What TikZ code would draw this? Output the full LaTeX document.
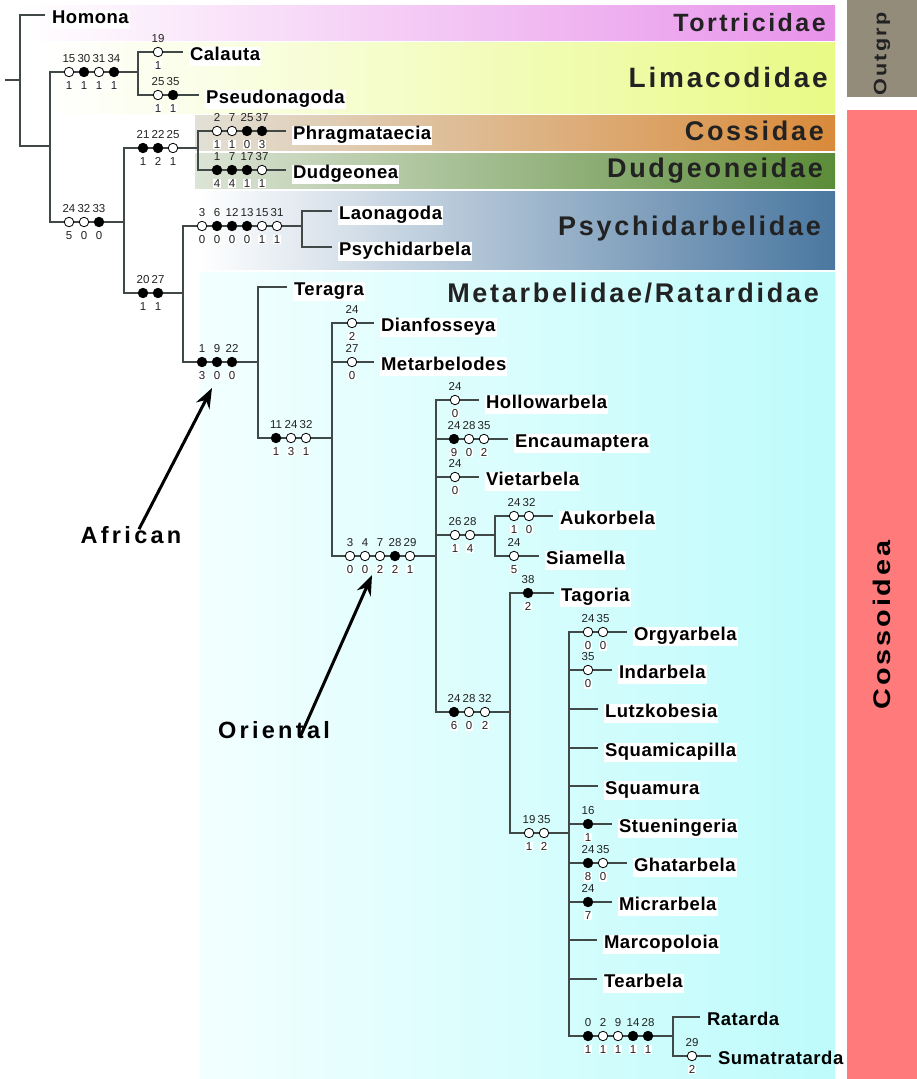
\documentclass[tikz,border=0pt]{standalone}
\usepackage{fontspec}
\setmainfont{Liberation Sans}
\newfontfamily\spaced[LetterSpace=10]{Liberation Sans}
\newfontfamily\taxfont[LetterSpace=3]{Liberation Sans}
\newfontfamily\arrfont[LetterSpace=14]{Liberation Sans}
\usepackage{xcolor}
\usepackage{tikz}
\usetikzlibrary{arrows.meta}

\definecolor{branch}{HTML}{404848}
\definecolor{famtext}{HTML}{222222}
\definecolor{tortM}{HTML}{F2C6DE}
\definecolor{tortR}{HTML}{E892EA}
\definecolor{limM}{HTML}{F3F9C9}
\definecolor{limR}{HTML}{E9FA85}
\definecolor{cosL}{HTML}{E2E0D6}
\definecolor{cosM}{HTML}{CDBB8C}
\definecolor{cosR}{HTML}{D98A3A}
\definecolor{dudL}{HTML}{DCE4D6}
\definecolor{dudM}{HTML}{A4BF8F}
\definecolor{dudR}{HTML}{5B8C38}
\definecolor{psyM}{HTML}{A9BCD0}
\definecolor{psyR}{HTML}{4A77A0}
\definecolor{metL}{HTML}{F3FFFF}
\definecolor{metR}{HTML}{BEFBFB}
\definecolor{outgrp}{HTML}{938C7B}
\definecolor{cossoid}{HTML}{FF7B7B}

\begin{document}
\begin{tikzpicture}[x=1pt, y=-1pt,
  br/.style={draw=branch, line width=1.2pt},
  opn/.style={circle, draw=black, line width=0.8pt, fill=white, inner sep=0pt, minimum size=9.5pt},
  cls/.style={opn, fill=black},
  num/.style={font=\fontsize{11.5}{12}\selectfont, text=famtext, inner sep=0.5pt},
  numb/.style={num, fill=white},
  c/.style 2 args={label={[num]above:#1}, label={[numb]below:#2}},
  label distance=4pt,
  tax/.style={anchor=west, fill=white, inner sep=1pt, outer xsep=6pt, text height=13pt, text depth=4pt,
    font=\taxfont\bfseries\fontsize{18.5}{20}\selectfont},
  fam/.style={anchor=east, inner sep=0pt, text=famtext, font=\spaced\bfseries\fontsize{#1}{#1}\selectfont},
  arr/.style={line width=3pt, -{Stealth[length=20pt, width=15pt]}}]
  \useasboundingbox (0,0) rectangle (917,1079);
  % family bands
  \shade[left color=white, middle color=tortM, right color=tortR] (20,5) rectangle (835,40);
  \shade[left color=white, middle color=limM, right color=limR] (45,42) rectangle (835,113);
  \shade[left color=cosL, middle color=cosM, right color=cosR] (195,115) rectangle (835,150);
  \shade[left color=dudL, middle color=dudM, right color=dudR] (195,153) rectangle (835,188);
  \shade[left color=white, middle color=psyM, right color=psyR] (200,191) rectangle (835,269);
  \shade[left color=metL, right color=metR] (200,272) rectangle (835,1079);
  \fill[outgrp] (847,0) rectangle (917,97);
  \fill[cossoid] (847,110) rectangle (917,1079);
  \node[fam=25] (tortricidae) at (826,23) {Tortricidae};
  \node[fam=28] (limacodidae) at (828,77) {Limacodidae};
  \node[fam=27] (cossidae) at (824,131) {Cossidae};
  \node[fam=27] (dudgeoneidae) at (823,171) {Dudgeoneidae};
  \node[fam=27] (psychidarbelidae) at (821,229) {Psychidarbelidae};
  \node[fam=27] (metarbelidae) at (819,293) {Metarbelidae/Ratardidae};
  \node[rotate=90, text=famtext, font=\spaced\bfseries\fontsize{18}{18}\selectfont] (outg) at (882,54) {\scalebox{1.2}[1]{Outgrp}};
  \node[rotate=90, text=black, font=\spaced\bfseries\fontsize{24}{24}\selectfont] (cossoidea) at (882,625) {\scalebox{1.2}[1]{Cossoidea}};

  % internal nodes of the tree
  \coordinate (root) at (5,80);
  \coordinate (r) at (20,80);
  \coordinate (a) at (50,146);
  \coordinate (lim) at (138,72);
  \coordinate (b) at (124,222);
  \coordinate (cd) at (198,148);
  \coordinate (c) at (183,293);
  \coordinate (psy) at (302,226);
  \coordinate (m) at (258,362);
  \coordinate (m1) at (332,438);
  \coordinate (m2) at (436,556);
  \coordinate (m3) at (495,535);
  \coordinate (m4) at (510,712);
  \coordinate (m5) at (569,833);
  \coordinate (m6) at (673,1036);

  % taxa (set 4px below their branch)
  \node[tax] (homona) at (45,19) {Homona};
  \node[tax] (calauta) at (183,56) {Calauta};
  \node[tax] (pseudonagoda) at (199,99) {Pseudonagoda};
  \node[tax] (phragmataecia) at (286,135) {Phragmataecia};
  \node[tax] (dudgeonea) at (286,174) {Dudgeonea};
  \node[tax] (laonagoda) at (332,215) {Laonagoda};
  \node[tax] (psychidarbela) at (332,251) {Psychidarbela\ };
  \node[tax] (teragra) at (287,291) {Teragra};
  \node[tax] (dianfosseya) at (374,327) {Dianfosseya};
  \node[tax] (metarbelodes) at (374,366) {Metarbelodes};
  \node[tax] (hollowarbela) at (479,404) {Hollowarbela};
  \node[tax] (encaumaptera) at (508,443) {Encaumaptera};
  \node[tax] (vietarbela) at (479,481) {Vietarbela\ };
  \node[tax] (aukorbela) at (553,520) {Aukorbela};
  \node[tax] (siamella) at (539,560) {Siamella};
  \node[tax] (tagoria) at (554,597) {Tagoria};
  \node[tax] (orgyarbela) at (627,636) {Orgyarbela\ };
  \node[tax] (indarbela) at (612,674) {Indarbela\ };
  \node[tax] (lutzkobesia) at (598,713) {Lutzkobesia};
  \node[tax] (squamicapilla) at (598,752) {Squamicapilla};
  \node[tax] (squamura) at (598,790) {Squamura};
  \node[tax] (stueningeria) at (612,828) {Stueningeria\ };
  \node[tax] (ghatarbela) at (627,867) {Ghatarbela};
  \node[tax] (micrarbela) at (612,906) {Micrarbela};
  \node[tax] (marcopoloia) at (597,944) {Marcopoloia\ };
  \node[tax] (tearbela) at (597,983) {Tearbela\ };
  \node[tax, fill=none] (ratarda) at (700,1021) {Ratarda};
  \node[tax, fill=none] (sumatratarda) at (711,1060) {Sumatratarda};

  % branches
  \draw[br] (root) -- (r);
  \draw[br] (r) |- ([yshift=4pt]homona.west);
  \draw[br] (r) |- (a);
  \draw[br] (a) |- (lim);
  \draw[br] (a) |- (b);
  \draw[br] (lim) |- ([yshift=4pt]calauta.west);
  \draw[br] (lim) |- ([yshift=4pt]pseudonagoda.west);
  \draw[br] (b) |- (cd);
  \draw[br] (b) |- (c);
  \draw[br] (cd) |- ([yshift=4pt]phragmataecia.west);
  \draw[br] (cd) |- ([yshift=4pt]dudgeonea.west);
  \draw[br] (c) |- (psy);
  \draw[br] (c) |- (m);
  \draw[br] (psy) |- ([yshift=4pt]laonagoda.west);
  \draw[br] (psy) |- ([yshift=4pt]psychidarbela.west);
  \draw[br] (m) |- ([yshift=4pt]teragra.west);
  \draw[br] (m) |- (m1);
  \draw[br] (m1) |- ([yshift=4pt]dianfosseya.west);
  \draw[br] (m1) |- ([yshift=4pt]metarbelodes.west);
  \draw[br] (m1) |- (m2);
  \draw[br] (m2) |- ([yshift=4pt]hollowarbela.west);
  \draw[br] (m2) |- ([yshift=4pt]encaumaptera.west);
  \draw[br] (m2) |- ([yshift=4pt]vietarbela.west);
  \draw[br] (m2) |- (m3);
  \draw[br] (m2) |- (m4);
  \draw[br] (m3) |- ([yshift=4pt]aukorbela.west);
  \draw[br] (m3) |- ([yshift=4pt]siamella.west);
  \draw[br] (m4) |- ([yshift=4pt]tagoria.west);
  \draw[br] (m4) |- (m5);
  \draw[br] (m5) |- ([yshift=4pt]orgyarbela.west);
  \draw[br] (m5) |- ([yshift=4pt]indarbela.west);
  \draw[br] (m5) |- ([yshift=4pt]lutzkobesia.west);
  \draw[br] (m5) |- ([yshift=4pt]squamicapilla.west);
  \draw[br] (m5) |- ([yshift=4pt]squamura.west);
  \draw[br] (m5) |- ([yshift=4pt]stueningeria.west);
  \draw[br] (m5) |- ([yshift=4pt]ghatarbela.west);
  \draw[br] (m5) |- ([yshift=4pt]micrarbela.west);
  \draw[br] (m5) |- ([yshift=4pt]marcopoloia.west);
  \draw[br] (m5) |- ([yshift=4pt]tearbela.west);
  \draw[br] (m5) |- (m6);
  \draw[br] (m6) |- ([yshift=4pt]ratarda.west);
  \draw[br] (m6) |- ([yshift=4pt]sumatratarda.west);

  % character states: Limacodidae
  \node[opn, c={15}{1}] (l1) at (69,72) {};
  \node[cls, c={30}{1}] (l2) at (84,72) {};
  \node[opn, c={31}{1}] (l3) at (99,72) {};
  \node[cls, c={34}{1}] (l4) at (114,72) {};
  \node[opn, c={19}{1}] (ca1) at (158,52) {};
  \node[opn, c={25}{1}] (ps1) at (158,95) {};
  \node[cls, c={35}{1}] (ps2) at (173,95) {};
  % Cossoidea
  \node[opn, c={24}{5}] (b1) at (69,222) {};
  \node[opn, c={32}{0}] (b2) at (84,222) {};
  \node[cls, c={33}{0}] (b3) at (99,222) {};
  % Cossidae + Dudgeoneidae
  \node[cls, c={21}{1}] (cd1) at (143,148) {};
  \node[cls, c={22}{2}] (cd2) at (158,148) {};
  \node[opn, c={25}{1}] (cd3) at (173,148) {};
  \node[opn, c={2}{1}] (ph1) at (217,131) {};
  \node[opn, c={7}{1}] (ph2) at (232,131) {};
  \node[cls, c={25}{0}] (ph3) at (247,131) {};
  \node[cls, c={37}{3}] (ph4) at (262,131) {};
  \node[cls, c={1}{4}] (du1) at (217,170) {};
  \node[cls, c={7}{4}] (du2) at (232,170) {};
  \node[cls, c={17}{1}] (du3) at (247,170) {};
  \node[opn, c={37}{1}] (du4) at (262,170) {};
  % Psychidarbelidae + Metarbelidae
  \node[cls, c={20}{1}] (c1) at (143,293) {};
  \node[cls, c={27}{1}] (c2) at (158,293) {};
  \node[opn, c={3}{0}] (py1) at (202,226) {};
  \node[cls, c={6}{0}] (py2) at (217,226) {};
  \node[cls, c={12}{0}] (py3) at (232,226) {};
  \node[cls, c={13}{0}] (py4) at (247,226) {};
  \node[opn, c={15}{1}] (py5) at (262,226) {};
  \node[opn, c={31}{1}] (py6) at (277,226) {};
  % Metarbelidae/Ratardidae
  \node[cls, c={1}{3}] (me1) at (202,362) {};
  \node[cls, c={9}{0}] (me2) at (217,362) {};
  \node[cls, c={22}{0}] (me3) at (232,362) {};
  \node[cls, c={11}{1}] (mo1) at (276,438) {};
  \node[opn, c={24}{3}] (mo2) at (291,438) {};
  \node[opn, c={32}{1}] (mo3) at (306,438) {};
  \node[opn, c={24}{2}] (di1) at (352,323) {};
  \node[opn, c={27}{0}] (mb1) at (352,362) {};
  % Oriental clade
  \node[opn, c={3}{0}] (or1) at (350,556) {};
  \node[opn, c={4}{0}] (or2) at (365,556) {};
  \node[opn, c={7}{2}] (or3) at (380,556) {};
  \node[cls, c={28}{2}] (or4) at (395,556) {};
  \node[opn, c={29}{1}] (or5) at (410,556) {};
  \node[opn, c={24}{0}] (ho1) at (455,400) {};
  \node[cls, c={24}{9}] (en1) at (454,439) {};
  \node[opn, c={28}{0}] (en2) at (469,439) {};
  \node[opn, c={35}{2}] (en3) at (484,439) {};
  \node[opn, c={24}{0}] (vi1) at (455,477) {};
  \node[opn, c={26}{1}] (as1) at (455,535) {};
  \node[opn, c={28}{4}] (as2) at (470,535) {};
  \node[opn, c={24}{1}] (au1) at (514,516) {};
  \node[opn, c={32}{0}] (au2) at (529,516) {};
  \node[opn, c={24}{5}] (si1) at (514,556) {};
  \node[cls, c={24}{6}] (ra1) at (454,712) {};
  \node[opn, c={28}{0}] (ra2) at (469,712) {};
  \node[opn, c={32}{2}] (ra3) at (485,712) {};
  \node[cls, c={38}{2}] (ta1) at (528,593) {};
  \node[opn, c={19}{1}] (in1) at (529,833) {};
  \node[opn, c={35}{2}] (in2) at (544,833) {};
  \node[opn, c={24}{0}] (og1) at (588,632) {};
  \node[opn, c={35}{0}] (og2) at (603,632) {};
  \node[opn, c={35}{0}] (id1) at (588,670) {};
  \node[cls, c={16}{1}] (st1) at (588,824) {};
  \node[cls, c={24}{8}] (gh1) at (588,863) {};
  \node[opn, c={35}{0}] (gh2) at (603,863) {};
  \node[cls, c={24}{7}] (mi1) at (588,902) {};
  \node[cls, c={0}{1}] (rt1) at (588,1036) {};
  \node[opn, c={2}{1}] (rt2) at (603,1036) {};
  \node[opn, c={9}{1}] (rt3) at (618,1036) {};
  \node[cls, c={14}{1}] (rt4) at (633,1036) {};
  \node[cls, c={28}{1}] (rt5) at (648,1036) {};
  \node[opn, c={29}{2}] (su1) at (692,1056) {};

  % origin arrows
  \node[font=\arrfont\bfseries\fontsize{23.5}{24}\selectfont, inner sep=0pt] (african) at (131,535) {African};
  \node[font=\arrfont\bfseries\fontsize{23.5}{24}\selectfont, inner sep=0pt] (oriental) at (274,730) {Oriental};
  \coordinate (afrtip) at (212,388);
  \coordinate (oritip) at (372,575);
  \draw[arr] ([xshift=8pt, yshift=-3pt]african.north) -- (afrtip);
  \draw[arr] ([xshift=26pt, yshift=-16pt]oriental.north) -- (oritip);
\end{tikzpicture}
\end{document}
